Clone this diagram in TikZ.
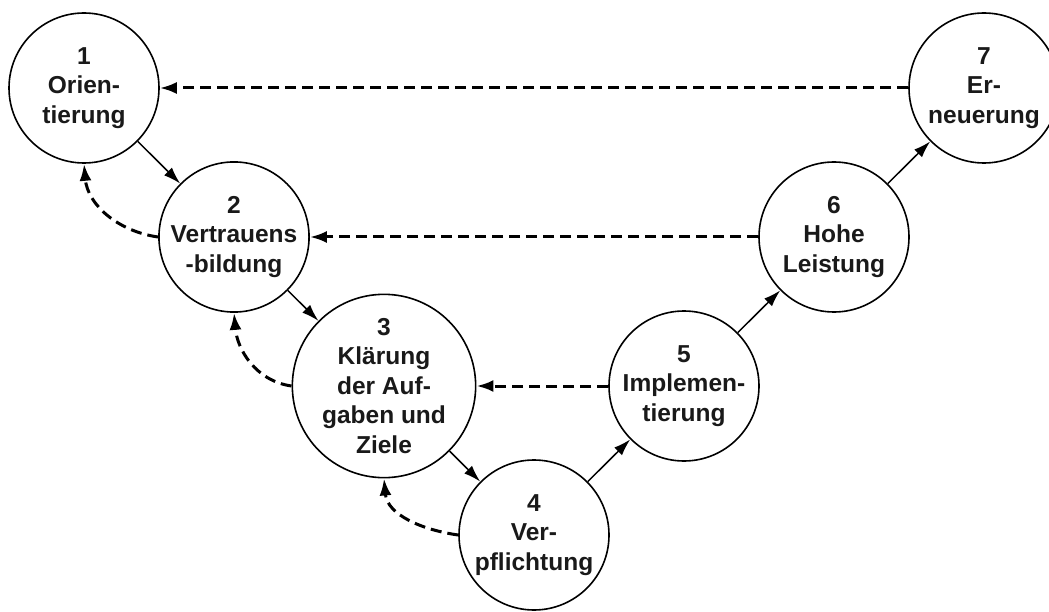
\documentclass[tikz,border=0pt]{standalone}
\usepackage{fontspec}
\setmainfont{Liberation Sans}
\usetikzlibrary{arrows.meta}
\tikzset{
  stage/.style={circle, draw=black, line width=1.6pt, minimum size=150pt, inner sep=0pt,
    align=center, font=\fontsize{24.5}{29.5}\selectfont\bfseries, text=black!90},
  fwd/.style={line width=1.5pt, -{Latex[length=17pt,width=11pt]}},
  back/.style={line width=3pt, dash pattern=on 11pt off 6pt, -{Latex[length=17pt,width=12pt]}},
}
\begin{document}
\begin{tikzpicture}[x=1pt,y=-1pt]
\useasboundingbox (0,0) rectangle (1049,612);
\node[stage] (n1) at (84,88)  {1\\Orien-\\tierung};
\node[stage] (n2) at (234,237) {2\\Vertrauens\\-bildung};
\node[stage] (n3) at (384,386) {3\\Klärung\\der Auf-\\gaben und\\Ziele};
\node[stage] (n4) at (534,535) {4\\Ver-\\pflichtung};
\node[stage] (n5) at (684,386) {5\\Implemen-\\tierung};
\node[stage] (n6) at (834,237) {6\\Hohe\\Leistung};
\node[stage] (n7) at (984,88) {7\\Er-\\neuerung};
\draw[fwd] (n1) -- (n2);
\draw[fwd] (n2) -- (n3);
\draw[fwd] (n3) -- (n4);
\draw[fwd] (n4) -- (n5);
\draw[fwd] (n5) -- (n6);
\draw[fwd] (n6) -- (n7);
\draw[back] (n7.west) -- (n1.east);
\draw[back] (n6.west) -- (n2.east);
\draw[back] (n5.west) -- (n3.east);
\draw[back] (n2.west) to[out=172,in=-85] (n1.south);
\draw[back] (n3.west) to[out=172,in=-85] (n2.south);
\draw[back] (n4.west) to[out=172,in=-85] (n3.south);
\end{tikzpicture}
\end{document}
